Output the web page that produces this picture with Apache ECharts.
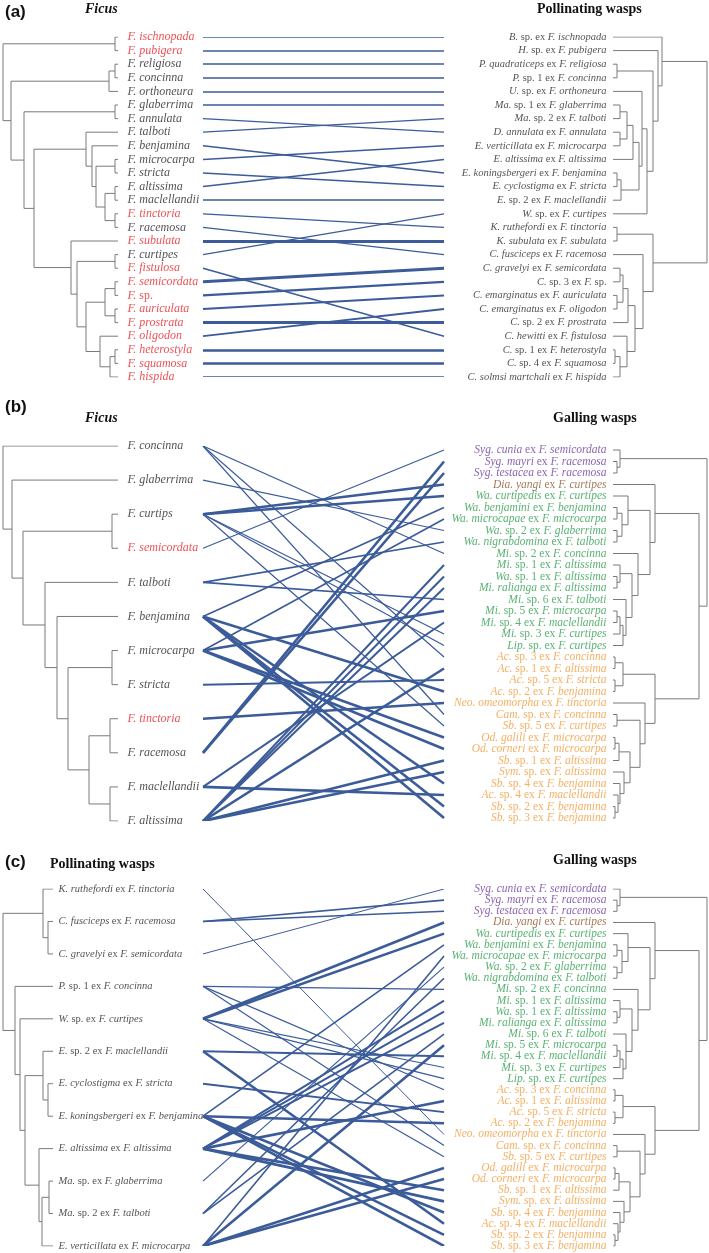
<!DOCTYPE html>
<html><head><meta charset="utf-8">
<script src="https://cdn.jsdelivr.net/npm/echarts@6/dist/echarts.min.js"></script>
<style>html,body{margin:0;padding:0;background:#fff}#c{width:709px;height:1253px}</style>
</head><body><div id="c"></div>
<script>
// ---------------- DATA ----------------
// Panel (a)
const aFicus = ['F. ischnopada','F. pubigera','F. religiosa','F. concinna','F. orthoneura','F. glaberrima','F. annulata','F. talboti','F. benjamina','F. microcarpa','F. stricta','F. altissima','F. maclellandii','F. tinctoria','F. racemosa','F. subulata','F. curtipes','F. fistulosa','F. semicordata','F. sp.','F. auriculata','F. prostrata','F. oligodon','F. heterostyla','F. squamosa','F. hispida'];
const aFicusRed = [1,1,0,0,0,0,0,0,0,0,0,0,0,1,0,1,0,1,1,1,1,1,1,1,1,1];
const aPoll = ['B. sp. ex F. ischnopada','H. sp. ex F. pubigera','P. quadraticeps ex F. religiosa','P. sp. 1 ex F. concinna','U. sp. ex F. orthoneura','Ma. sp. 1 ex F. glaberrima','Ma. sp. 2 ex F. talboti','D. annulata ex F. annulata','E. verticillata ex F. microcarpa','E. altissima ex F. altissima','E. koningsbergeri ex F. benjamina','E. cyclostigma ex F. stricta','E. sp. 2 ex F. maclellandii','W. sp. ex F. curtipes','K. ruthefordi ex F. tinctoria','K. subulata ex F. subulata','C. fusciceps ex F. racemosa','C. gravelyi ex F. semicordata','C. sp. 3 ex F. sp.','C. emarginatus ex F. auriculata','C. emarginatus ex F. oligodon','C. sp. 2 ex F. prostrata','C. hewitti ex F. fistulosa','C. sp. 1 ex F. heterostyla','C. sp. 4 ex F. squamosa','C. solmsi martchali ex F. hispida'];
// pollinator index linked to each Ficus (left index order)
const aLinkTarget = [0,1,2,3,4,5,7,6,10,8,11,9,12,14,16,15,13,22,17,18,19,21,20,23,24,25];
const aLinkWidth  = [1.5,1.5,1.5,1.5,1.5,1.5,1.2,1.2,1.5,1.5,1.5,1.5,1.5,1.2,1.4,3,1.2,1.5,3,2.2,2,3,1.8,2.5,2.5,2.5];
// trees: [nodeHeight, child, child]; integers are leaf indices
const aTreeLeft = [3,[115,0,1],[11,[109,[115,2,3],4],[24,[115,5,6],[34,
  [86,7,[92,8,[96,[115,9,10],[105,[115,11,12],[115,13,14]]]]],
  [71,15,[77,[115,16,17],[86,[105,[115,18,19],[115,20,21]],[100,22,[110,[115,23,24],25]]]]]]]]];
const aTreeRight = [707,
  [662,0,[658,1,[653,[617,2,3],[647,[642,4,[639,[633,[627,[620,5,6],[620,7,8]],9],[621,[617,10,11],12]]],13]]]],
  [653,[617,14,15],[643,16,[635,[628,[623,[620,17,18],[617,19,20]],21],[627,22,[620,[615,23,24],25]]]]]];

// Panel (b)
const bFicus = ['F. concinna','F. glaberrima','F. curtips','F. semicordata','F. talboti','F. benjamina','F. microcarpa','F. stricta','F. tinctoria','F. racemosa','F. maclellandii','F. altissima'];
const bFicusRed = [0,0,0,1,0,0,0,0,1,0,0,0];
const gall = ['Syg. cunia ex F. semicordata','Syg. mayri ex F. racemosa','Syg. testacea ex F. racemosa','Dia. yangi ex F. curtipes','Wa. curtipedis ex F. curtipes','Wa. benjamini ex F. benjamina','Wa. microcapae ex F. microcarpa','Wa. sp. 2 ex F. glaberrima','Wa. nigrabdomina ex F. talboti','Mi. sp. 2 ex F. concinna','Mi. sp. 1 ex F. altissima','Wa. sp. 1 ex F. altissima','Mi. ralianga ex F. altissima','Mi. sp. 6 ex F. talboti','Mi. sp. 5 ex F. microcarpa','Mi. sp. 4 ex F. maclellandii','Mi. sp. 3 ex F. curtipes','Lip. sp. ex F. curtipes','Ac. sp. 3 ex F. concinna','Ac. sp. 1 ex F. altissima','Ac. sp. 5 ex F. stricta','Ac. sp. 2 ex F. benjamina','Neo. omeomorpha ex F. tinctoria','Cam. sp. ex F. concinna','Sb. sp. 5 ex F. curtipes','Od. galili ex F. microcarpa','Od. corneri ex F. microcarpa','Sb. sp. 1 ex F. altissima','Sym. sp. ex F. altissima','Sb. sp. 4 ex F. benjamina','Ac. sp. 4 ex F. maclellandii','Sb. sp. 2 ex F. benjamina','Sb. sp. 3 ex F. benjamina'];
// colour group: 2 purple, 3 brown, 4 green, 5 orange
const gallGroup = [2,2,2,3,4,4,4,4,4,4,4,4,4,4,4,4,4,4,5,5,5,5,5,5,5,5,5,5,5,5,5,5,5];
const bGallHost = [3,9,9,2,2,5,6,1,4,0,11,11,11,4,6,10,2,2,0,11,7,5,8,0,2,6,6,11,11,5,10,5,5];
const bLinkWidth = [1.2,2.6,2.6,2.6,2.6,1.6,1.6,1.2,1.6,1.2,2,2,2,1.6,2.6,2,1.2,1.2,1.2,2.6,2,2.6,2.6,1.2,1.2,2.6,2.6,2.6,2.6,2.6,2.6,2.6,2.6];
const bTreeLeft = [3,0,[12,1,[23,[112,2,3],[45,4,[57,5,[68,[112,6,7],[89,[110,8,9],[110,10,11]]]]]]]];
const gallTree = [707,
  [620,0,[617,1,2]],
  [699,
    [655,3,[650,
      [628,4,[622,[617,5,6],[617,7,8]]],
      [638,9,[632,[620,10,[617,11,12]],[626,13,[623,[620,[617,14,15],16],17]]]]]],
    [655,[623,[615,18,19],[615,20,21]],[645,22,[640,[617,23,24],[630,[619,[615,25,26],27],[624,28,[620,29,[618,30,[615,31,32]]]]]]]]]];

// Panel (c)
const cPoll = ['K. ruthefordi ex F. tinctoria','C. fusciceps ex F. racemosa','C. gravelyi ex F. semicordata','P. sp. 1 ex F. concinna','W. sp. ex F. curtipes','E. sp. 2 ex F. maclellandii','E. cyclostigma ex F. stricta','E. koningsbergeri ex F. benjamina','E. altissima ex F. altissima','Ma. sp. ex F. glaberrima','Ma. sp. 2 ex F. talboti','E. verticillata ex F. microcarpa'];
const cGallHost = [2,1,1,4,4,7,11,9,10,3,8,8,8,10,11,5,4,4,3,8,6,7,0,3,4,11,11,8,8,7,5,7,7];
const cLinkWidth = [1.0,1.6,1.6,2.6,2.6,1.6,1.6,1.2,1.6,1.2,2,2,2,1.6,2.6,2,1.2,1.2,1.2,2.6,2,2.6,1.0,1.2,1.2,2.6,2.6,2.6,2.6,2.6,2.6,2.6,2.6];
const cTreeLeft = [3,[43,0,[48,1,2]],[15,3,[20,4,[25,[43,5,[48,6,7]],[39,8,[42,[49,9,10],11]]]]]];

// ---------------- RENDER ----------------
const SERIF = '"Liberation Serif","Times New Roman",serif';
const COLORS = ['#231f20','#e8262b','#6b3a9e','#8b5a32','#2e9f50','#f39c3c'];
const TREE = '#7a7a7a', LINK = '#3b5b99';

function makeRich(size){
  const r = {};
  COLORS.forEach((c,k)=>{
    r['i'+k] = {fontFamily:SERIF,fontSize:size,fontStyle:'italic',color:c};
    r['n'+k] = {fontFamily:SERIF,fontSize:size,fontStyle:'normal',color:c};
  });
  return r;
}
function fmt(text,c){
  const groups=[];
  text.split(' ').forEach(t=>{
    const st=(t==='sp.'||t==='ex'||/^\d+$/.test(t))?'n':'i';
    if(groups.length&&groups[groups.length-1].st===st) groups[groups.length-1].t.push(t);
    else groups.push({st:st,t:[t]});
  });
  return groups.map((g,k)=>'{'+g.st+c+'|'+g.t.join(' ')+(k<groups.length-1?' ':'')+'}').join('');
}
function layoutTree(node,tip,pos,segs){
  if(typeof node==='number') return {x:tip,y:pos(node)};
  const x=node[0];
  const kids=node.slice(1).map(n=>layoutTree(n,tip,pos,segs));
  const a=kids[0], b=kids[kids.length-1];
  segs.push([[a.x,a.y],[x,a.y],[x,b.y],[b.x,b.y]]);
  return {x:x,y:(a.y+b.y)/2};
}
const lin=(n,r0,r1)=>i=>r0+i*(r1-r0)/(n-1);

const series=[];
function treeSeries(p,tree,tip,pos){
  const segs=[]; layoutTree(tree,tip,pos,segs);
  series.push({type:'lines',coordinateSystem:'cartesian2d',xAxisIndex:p,yAxisIndex:p,polyline:true,silent:true,
    lineStyle:{color:TREE,width:1,opacity:1},data:segs.map(s=>({coords:s}))});
}
function linkSeries(p,pairs,xl,xr,posL,posR){
  series.push({type:'lines',coordinateSystem:'cartesian2d',xAxisIndex:p,yAxisIndex:p,silent:true,
    lineStyle:{color:LINK,opacity:1},
    data:pairs.map(q=>({coords:[[xl,posL(q[0])],[xr,posR(q[1])]],lineStyle:{width:q[2],color:LINK,opacity:1}}))});
}
function labelSeries(p,names,colorOf,x,pos,side,size,dist){
  series.push({type:'scatter',xAxisIndex:p,yAxisIndex:p,symbolSize:1,silent:true,itemStyle:{color:'rgba(0,0,0,0)'},
    data:names.map((n,i)=>({value:[x,pos(i)],name:n,c:colorOf(i)})),
    label:{show:true,position:side,distance:dist,formatter:q=>fmt(q.data.name,q.data.c),rich:makeRich(size)},
    labelLayout:{hideOverlap:false}});
}

// panel a
{
  const pL=lin(aFicus.length,0,1), pR=lin(aPoll.length,0,1);
  treeSeries(0,aTreeLeft,118,pL);
  treeSeries(0,aTreeRight,613,pR);
  linkSeries(0,aLinkTarget.map((t,i)=>[i,t,aLinkWidth[i]]),203,444,pL,pR);
  labelSeries(0,aFicus,i=>aFicusRed[i]?1:0,118,pL,'right',12,9);
  labelSeries(0,aPoll,()=>0,613,pR,'left',10.5,6);
}
// panel b
{
  const pL=lin(bFicus.length,0,1), pR=lin(gall.length,0.0107,0.992);
  treeSeries(1,bTreeLeft,118,pL);
  treeSeries(1,gallTree,613,pR);
  linkSeries(1,bGallHost.map((h,j)=>[h,j,bLinkWidth[j]]),203,444,pL,pR);
  labelSeries(1,bFicus,i=>bFicusRed[i]?1:0,118,pL,'right',12,9);
  labelSeries(1,gall,i=>gallGroup[i],613,pR,'left',11.5,6);
}
// panel c
{
  const pL=lin(cPoll.length,0,1), pR=lin(gall.length,0,1);
  treeSeries(2,cTreeLeft,53,pL);
  treeSeries(2,gallTree,613,pR);
  linkSeries(2,cGallHost.map((h,j)=>[h,j,cLinkWidth[j]]),203,444,pL,pR);
  labelSeries(2,cPoll,()=>0,53,pL,'right',10.5,5);
  labelSeries(2,gall,i=>gallGroup[i],613,pR,'left',11.5,6);
}

const grids=[{top:37,height:340},{top:446,height:375},{top:889,height:357}].map(g=>({left:0,right:0,top:g.top,height:g.height,containLabel:false}));
const xAxes=grids.map((g,i)=>({type:'value',gridIndex:i,min:0,max:709,show:false}));
const yAxes=grids.map((g,i)=>({type:'value',gridIndex:i,min:0,max:1,inverse:true,show:false}));

function T(text,left,top,opt){
  return Object.assign({text:text,left:left,top:top,padding:0,
    textStyle:Object.assign({fontFamily:SERIF,fontWeight:'bold',fontSize:14,color:'#111'},opt||{})});
}
const SANS={fontFamily:'"Liberation Sans",Arial,sans-serif',fontSize:17,fontWeight:'bold'};
const titles=[
  T('(a)',5,4,SANS), T('Ficus',85,2,{fontStyle:'italic'}), T('Pollinating wasps',537,2),
  T('(b)',5,399,SANS), T('Ficus',85,411,{fontStyle:'italic'}), T('Galling wasps',553,411),
  T('(c)',5,854,SANS), T('Pollinating wasps',50,857), T('Galling wasps',553,853)
];

const chart=echarts.init(document.getElementById('c'));
chart.setOption({animation:false,backgroundColor:'#fff',title:titles,grid:grids,xAxis:xAxes,yAxis:yAxes,series:series});
</script></body></html>
